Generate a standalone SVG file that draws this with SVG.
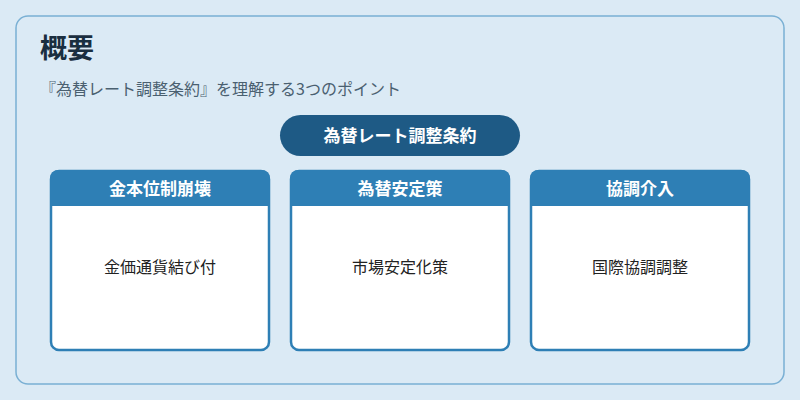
<svg xmlns="http://www.w3.org/2000/svg" width="800" height="400" viewBox="0 0 800 400">
<style>
text{font-family:"Noto Sans CJK JP","Noto Sans",sans-serif}
.hd{fill:#fff;font-size:17px;font-weight:bold;text-anchor:middle}
.bd{fill:#222;font-size:16px;text-anchor:middle}
.card{fill:#fff;stroke:#2e7fb5;stroke-width:2.5}
.hbar{fill:#2e7fb5}
</style>
<rect width="800" height="400" fill="#dbeaf5"/>
<rect x="16" y="16" width="768" height="368" rx="12" fill="#dbeaf5" stroke="#7ab0d4" stroke-width="1.5"/>
<text x="40" y="58" font-size="27" font-weight="bold" fill="#1a2e40">概要</text>
<text x="40" y="95" font-size="16" fill="#4a6070">『為替レート調整条約』を理解する3つのポイント</text>
<g id="root"><rect x="280" y="115" width="240" height="41" rx="20.5" fill="#1e5a85"/><text class="hd" x="400" y="142">為替レート調整条約</text></g>
<g id="n1"><rect class="card" x="51" y="171" width="218" height="179" rx="8"/><path class="hbar" d="M50 206V178a8 8 0 0 1 8-8H262a8 8 0 0 1 8 8V206Z"/><text class="hd" x="160" y="195">金本位制崩壊</text><text class="bd" x="160" y="273">金価通貨結び付</text></g>
<g id="n2"><rect class="card" x="291" y="171" width="218" height="179" rx="8"/><path class="hbar" d="M290 206V178a8 8 0 0 1 8-8H502a8 8 0 0 1 8 8V206Z"/><text class="hd" x="400" y="195">為替安定策</text><text class="bd" x="400" y="273">市場安定化策</text></g>
<g id="n3"><rect class="card" x="531" y="171" width="218" height="179" rx="8"/><path class="hbar" d="M530 206V178a8 8 0 0 1 8-8H742a8 8 0 0 1 8 8V206Z"/><text class="hd" x="640" y="195">協調介入</text><text class="bd" x="640" y="273">国際協調調整</text></g>
<g id="connectors"/>
</svg>
